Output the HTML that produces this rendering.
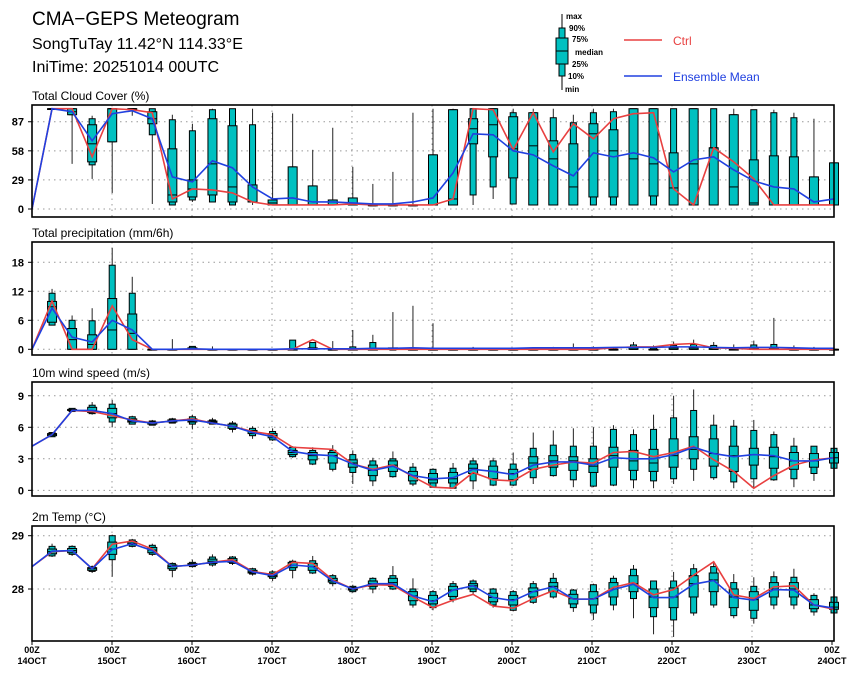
<!DOCTYPE html>
<html><head><meta charset="utf-8"><style>
body{margin:0;background:#fff;}
svg{display:block;font-family:"Liberation Sans",sans-serif;}
</style></head><body>
<svg id="chart" width="860" height="680" viewBox="0 0 860 680">
<text x="32" y="25" font-size="19">CMA−GEPS Meteogram</text>
<text x="32" y="49" font-size="16">SongTuTay 11.42°N 114.33°E</text>
<text x="32" y="72" font-size="16">IniTime: 20251014 00UTC</text>
<g id="legend">
<line x1="562" y1="14" x2="562" y2="90" stroke="#000"/>
<rect x="559" y="28" width="6" height="48" fill="#00c0c0" stroke="#000"/>
<rect x="556" y="38" width="12" height="26" fill="#00c0c0" stroke="#000"/>
<line x1="556" y1="51" x2="568" y2="51" stroke="#000"/>
<g font-size="8" font-weight="bold">
<text x="566" y="19">max</text><text x="569" y="31">90%</text><text x="572" y="42">75%</text>
<text x="575" y="55">median</text><text x="572" y="67">25%</text><text x="568" y="79">10%</text><text x="565" y="92">min</text></g>
<line x1="624" y1="40" x2="662" y2="40" stroke="#e84040" stroke-width="1.5"/>
<text x="673" y="45" font-size="12" fill="#e84040">Ctrl</text>
<line x1="624" y1="76" x2="662" y2="76" stroke="#2040e0" stroke-width="1.5"/>
<text x="673" y="81" font-size="12" fill="#2040e0">Ensemble Mean</text>
</g>
</svg>
<script>
const dayLabels=["14OCT","15OCT","16OCT","17OCT","18OCT","19OCT","20OCT","21OCT","22OCT","23OCT","24OCT"];
const ccTicks=[0,29,58,87];
const ccMin=[null,100,45,30,16,93,5,4,7,7,4,4,4,4,4,4,4,4,4,4,4,4,4,10,5,4,4,4,4,4,4,4,4,4,4,4,4,4,4,4,4];
const ccP10=[null,100,94,44,67,100,74,4,9,7,4,7,4,4,4,4,4,4,4,4,4,4,14,22,5,4,4,4,4,4,4,4,4,4,4,4,4,4,4,4,4];
const ccP25=[null,100,94,47,67,100,85,7,12,14,7,7,4,4,4,4,4,4,4,4,4,4,65,52,31,4,4,4,12,12,4,13,4,4,4,4,4,4,4,4,4];
const ccMed=[null,100,97,65,100,100,90,14,20,45,22,7,6,4,4,4,5,4,4,4,4,10,80,84,60,63,50,22,75,58,50,45,21,45,61,22,6,4,4,4,4];
const ccP75=[null,100,100,84,100,100,97,60,29,90,83,24,9,42,23,9,11,4,4,4,54,99,90,100,92,96,68,65,85,79,100,100,56,100,61,94,49,53,52,32,46];
const ccP90=[null,100,100,90,100,100,100,89,78,99,100,84,9,42,23,9,11,4,4,4,54,99,100,100,96,96,91,86,96,97,100,100,100,100,100,94,99,96,91,32,46];
const ccMax=[null,100,100,93,100,100,100,94,85,100,100,100,96,95,59,81,42,25,37,96,100,100,100,100,100,100,100,94,100,100,100,100,100,100,100,100,99,99,96,90,46];
const ccCtrl=[0,100,100,52,100,99,96,10,20,19,16,7,4,4,4,4,5,4,4,4,4,10,100,99,59,96,57,85,70,90,95,96,20,4,61,47,30,4,4,4,4];
const ccMean=[0,100,97,68,95,98,90,32,27,48,41,22,10,11,7,7,6,5,5,7,11,36,75,74,58,54,43,33,56,52,56,51,37,49,52,39,28,22,20,7,10];

const prTicks=[0,6,12,18];
const prMin=[null,5,0,0,0,0,0,0,0,0,0,0,0,0,0,0,0,0,0,0,0,0,0,0,0,0,0,0,0,0,0,0,0,0,0,0,0,0,0,0,0];
const prP10=[null,5,0,0,0,0,0,0,0,0,0,0,0,0,0,0,0,0,0,0,0,0,0,0,0,0,0,0,0,0,0,0,0,0,0,0,0,0,0,0,0];
const prP25=[null,5.6,0,0,0,0,0,0,0,0,0,0,0,0,0,0,0,0,0,0,0,0,0,0,0,0,0,0,0,0,0,0,0,0,0,0,0,0,0,0,0];
const prMed=[null,8.8,2,1,4,3.3,0,0,0,0,0,0,0,0,0,0,0,0,0,0,0,0,0,0,0,0,0,0,0,0,0,0,0,0,0,0,0,0,0,0,0];
const prP75=[null,9.9,4.3,3,10.5,7.3,0,0,0.3,0,0,0,0,0,0.3,0,0,0,0.3,0,0,0,0,0,0,0,0,0,0,0,0.3,0,0.3,0.3,0.3,0,0.3,0.3,0,0,0];
const prP90=[null,11.6,6,5.9,17.4,11.6,0,0,0.6,0,0,0,0,1.9,1.4,0,0.5,1.4,0,0,0,0,0,0,0,0,0,0,0,0,0.9,0.3,0.8,1.0,0.8,0.3,0.9,1.0,0,0,0];
const prMax=[null,12.5,7,8.5,21,15,0,2.1,0.6,0.6,0,0,0,1.9,1.4,1.7,4,3,7.7,9,5.4,0.3,0.5,0,0.2,0.3,0.5,1.2,0.6,0.3,1.5,0.8,1.6,2.0,1.5,1.0,1.8,6.5,0.8,0.5,0.3];
const prCtrl=[0,10,0,0,9,2,0,0,0,0,0,0,0,0,2,0,0,0,0,0,0,0,0,0,0,0,0,0,0,0.3,0.5,0.5,1.0,1.2,0.3,0.2,0,0,0,0,0];
const prMean=[0,8.5,2.5,1.5,6,4,0,0,0.1,0,0,0,0,0.1,0.1,0.1,0.1,0.2,0.2,0.3,0.2,0.2,0.2,0.2,0.2,0.3,0.3,0.3,0.3,0.4,0.4,0.4,0.5,0.5,0.4,0.3,0.4,0.4,0.3,0.2,0.2];

const wsTicks=[0,3,6,9];
const wsMin=[null,5.1,7.5,7.2,6.0,6.3,6.2,6.4,5.8,6.3,5.5,4.9,4.7,3.1,2.4,1.8,0.6,0.4,1.2,0.4,0.3,0.2,0.1,0.4,0.4,0.6,1.3,0.3,0.3,0.4,0.2,0.2,0.6,0.9,1.0,0.2,0.2,0.9,0.3,0.9,2.0];
const wsP10=[null,5.1,7.5,7.3,6.5,6.3,6.2,6.4,6.3,6.3,5.8,5.2,4.8,3.2,2.5,2.0,1.7,0.9,1.3,0.6,0.3,0.2,0.9,0.5,0.5,1.2,1.4,1.0,0.4,0.5,1.0,0.9,1.1,2.0,1.2,0.8,1.1,1.0,1.1,1.6,2.1];
const wsP25=[null,5.2,7.6,7.4,6.9,6.5,6.3,6.5,6.5,6.4,5.9,5.4,5.0,3.4,2.9,2.6,2.2,1.4,1.8,0.9,0.7,0.7,1.6,1.1,1.0,2.0,2.2,1.9,1.7,2.2,1.9,1.8,2.2,3.0,2.3,1.8,2.4,2.1,2.0,2.2,2.6];
const wsMed=[null,5.3,7.6,7.6,7.3,6.6,6.4,6.6,6.6,6.5,6.1,5.6,5.2,3.6,3.3,3.3,2.6,1.9,2.4,1.4,1.0,1.1,2.1,1.8,1.6,2.6,2.8,2.8,2.3,3.3,2.8,2.6,3.3,3.9,3.5,3.3,3.4,3.2,2.8,2.8,3.1];
const wsP75=[null,5.4,7.7,7.9,7.8,6.8,6.5,6.7,6.8,6.6,6.3,5.7,5.4,3.8,3.6,3.6,2.9,2.4,2.8,1.8,1.6,1.7,2.5,2.3,2.0,3.2,3.3,3.2,3.0,4.1,3.8,3.9,4.9,5.1,4.9,4.2,4.0,4.1,3.6,3.5,3.6];
const wsP90=[null,5.5,7.8,8.1,8.2,7.0,6.6,6.8,7.0,6.7,6.4,5.9,5.6,4.1,3.8,3.8,3.4,2.8,3.0,2.2,2.0,2.1,2.8,2.8,2.5,4.0,4.3,4.2,4.2,5.8,5.3,5.8,6.9,7.6,6.2,6.1,5.7,5.3,4.2,4.2,4.0];
const wsMax=[null,5.5,7.8,8.4,8.6,7.1,6.7,6.9,7.2,6.9,6.6,6.1,5.9,4.2,4.1,4.3,3.8,3.1,3.7,2.6,2.1,2.6,3.1,3.1,3.6,5.5,5.7,5.9,6.0,6.2,5.8,7.2,9.0,9.6,7.2,6.7,6.7,5.6,5.0,4.2,4.0];
const wsCtrl=[4.2,5.3,7.6,7.5,7.1,6.7,6.4,6.6,6.8,6.4,6.1,5.6,5.3,4.1,4.0,3.9,2.5,2.0,2.4,1.3,0.3,0.2,1.7,1.0,0.9,2.0,2.4,2.7,2.6,3.6,3.7,3.2,3.6,4.2,2.9,1.8,0.2,1.4,2.4,2.9,3.1];
const wsMean=[4.2,5.3,7.6,7.6,7.3,6.6,6.4,6.6,6.7,6.4,6.1,5.5,5.1,3.7,3.4,3.3,2.5,1.9,2.3,1.4,1.1,1.2,2.0,1.8,1.5,2.4,2.7,2.7,2.4,3.1,3.0,3.0,3.4,4.1,3.5,3.2,3.4,3.3,2.8,2.8,3.1];

const tTicks=[28,29];
const tMin=[null,28.6,28.62,28.3,28.23,28.78,28.62,28.22,28.4,28.42,28.45,28.25,28.15,28.2,28.28,28.05,27.93,27.92,27.98,27.65,27.6,27.75,27.9,27.65,27.58,27.72,27.82,27.57,27.42,27.6,27.45,27.15,27.1,27.5,27.65,27.45,27.35,27.62,27.62,27.5,27.5];
const tP10=[null,28.62,28.65,28.33,28.55,28.8,28.65,28.35,28.42,28.45,28.48,28.28,28.2,28.35,28.3,28.1,27.95,28.0,28.0,27.7,27.65,27.8,27.95,27.7,27.6,27.75,27.85,27.65,27.55,27.7,27.82,27.48,27.42,27.55,27.7,27.5,27.45,27.7,27.7,27.57,27.55];
const tP25=[null,28.66,28.68,28.35,28.65,28.83,28.68,28.38,28.44,28.48,28.5,28.3,28.23,28.4,28.35,28.13,27.98,28.05,28.05,27.78,27.72,27.86,28.0,27.76,27.7,27.85,27.95,27.72,27.7,27.85,27.95,27.65,27.65,27.85,27.95,27.65,27.6,27.85,27.85,27.63,27.62];
const tMed=[null,28.7,28.72,28.38,28.75,28.86,28.73,28.42,28.46,28.52,28.53,28.32,28.25,28.45,28.42,28.16,28.0,28.1,28.12,27.87,27.78,27.98,28.06,27.84,27.8,27.95,28.05,27.82,27.82,28.0,28.1,27.85,27.85,28.1,28.17,27.85,27.8,28.0,28.0,27.7,27.66];
const tP75=[null,28.75,28.76,28.4,28.88,28.89,28.78,28.45,28.48,28.56,28.57,28.35,28.29,28.5,28.48,28.2,28.03,28.15,28.2,27.95,27.88,28.05,28.1,27.92,27.88,28.02,28.12,27.9,27.95,28.12,28.25,28.0,28.02,28.25,28.3,28.0,27.95,28.12,28.12,27.8,27.75];
const tP90=[null,28.8,28.8,28.42,29.0,28.92,28.82,28.48,28.5,28.6,28.6,28.38,28.32,28.52,28.53,28.25,28.05,28.2,28.25,28.0,27.95,28.1,28.15,28.0,27.95,28.1,28.2,27.98,28.08,28.2,28.37,28.15,28.15,28.38,28.42,28.12,28.05,28.23,28.22,27.88,27.85];
const tMax=[null,28.85,28.82,28.44,29.02,28.94,28.85,28.5,28.55,28.65,28.62,28.4,28.35,28.55,28.62,28.28,28.08,28.22,28.43,28.2,27.98,28.15,28.18,28.02,27.98,28.15,28.3,28.0,28.1,28.25,28.45,28.15,28.32,28.47,28.5,28.28,28.22,28.33,28.38,27.92,27.88];
const tCtrl=[28.42,28.7,28.72,28.38,28.84,28.9,28.75,28.42,28.45,28.5,28.55,28.33,28.27,28.5,28.48,28.17,28.0,28.08,28.07,27.85,27.65,27.79,27.9,27.68,27.64,27.82,27.97,27.81,27.81,28.03,28.12,27.89,27.99,28.26,28.51,27.89,27.82,28.04,28.06,27.7,27.62];
const tMean=[28.42,28.71,28.72,28.38,28.74,28.85,28.72,28.42,28.45,28.5,28.52,28.32,28.25,28.45,28.42,28.15,28.0,28.1,28.1,27.87,27.76,27.98,28.06,27.84,27.78,27.95,28.04,27.81,27.81,27.99,28.09,27.84,27.84,28.09,28.16,27.84,27.79,27.99,27.98,27.7,27.64];

const NS="http://www.w3.org/2000/svg";
const svg=document.getElementById('chart');
const X0=32,X1=834,NSTEP=40;
function xs(i){return X0+(X1-X0)*i/NSTEP;}
function mk(tag,attrs,parent){const e=document.createElementNS(NS,tag);for(const k in attrs)e.setAttribute(k,attrs[k]);(parent||svg).appendChild(e);return e;}

function panel(name,title,top,bottom,ymin,ymax,ticks,fmt,d,isLast){
  const g=mk('g',{});
  
  
  const ys=v=>bottom-(v-ymin)/(ymax-ymin)*(bottom-top);
  const t=mk('text',{x:X0,y:top-5,'font-size':12},g);
  t.textContent=title;
  
  
  // grid
  for(let k=1;k<10;k++){const l=mk('line',{x1:X0+80*k,x2:X0+80*k,y1:top,y2:bottom,stroke:'#999','stroke-dasharray':'1.5,4'},g);
    }
  ticks.forEach(v=>{const y=ys(v);
    const l=mk('line',{x1:X0,x2:X1,y1:y,y2:y,stroke:'#999','stroke-dasharray':'1.5,4'},g);
    
    const tk=mk('line',{x1:X0-4,x2:X0,y1:y,y2:y,stroke:'#000'},g);
    
    const tl=mk('text',{x:X0-8,y:y+4,'font-size':11,'font-weight':'bold','text-anchor':'end'},g);
    tl.textContent=fmt(v);
    });
  // boxes
  for(let i=0;i<=NSTEP;i++){
    if(d.min[i]===null)continue;
    const x=xs(i);
    const bg=mk('g',{},g);
    
    
    mk('line',{x1:x,x2:x,y1:ys(d.min[i]),y2:ys(d.max[i]),stroke:'#222','stroke-width':1},bg);
    const a=ys(d.p90[i]),b=ys(d.p10[i]);
    mk('rect',{x:x-3,y:a,width:6,height:Math.max(b-a,0.8),fill:'#00c0c0',stroke:'#000','stroke-width':1},bg);
    const c=ys(d.p75[i]),e=ys(d.p25[i]);
    mk('rect',{x:x-4.5,y:c,width:9,height:Math.max(e-c,0.8),fill:'#00c0c0',stroke:'#000','stroke-width':1},bg);
    mk('line',{x1:x-4.5,x2:x+4.5,y1:ys(d.med[i]),y2:ys(d.med[i]),stroke:'#000','stroke-width':1},bg);
  }
  const pc=mk('polyline',{points:d.ctrl.map((v,i)=>xs(i)+','+ys(v)).join(' '),fill:'none',stroke:'#e84040','stroke-width':1.6},g);
  
  const pm=mk('polyline',{points:d.mean.map((v,i)=>xs(i)+','+ys(v)).join(' '),fill:'none',stroke:'#2040e0','stroke-width':1.6},g);
  
  const fr=mk('rect',{x:X0,y:top,width:X1-X0,height:bottom-top,fill:'none',stroke:'#000','stroke-width':1.6},g);
  
  if(isLast){
    dayLabels.forEach((lab,k)=>{const x=X0+80*k;
      const tk=mk('line',{x1:x,x2:x,y1:bottom,y2:bottom+4,stroke:'#000'},g);
      
      const t1=mk('text',{x:x,y:bottom+12,'font-size':9,'font-weight':'bold','text-anchor':'middle'},g);
      t1.textContent='00Z';
      
      const t2=mk('text',{x:x,y:bottom+23,'font-size':9,'font-weight':'bold','text-anchor':'middle'},g);
      t2.textContent=lab;
      });
  }
}
panel('cloud-cover','Total Cloud Cover (%)',105,217,-7.98,103.7,ccTicks,v=>String(v),
  {min:ccMin,p10:ccP10,p25:ccP25,med:ccMed,p75:ccP75,p90:ccP90,max:ccMax,ctrl:ccCtrl,mean:ccMean});
panel('precipitation','Total precipitation (mm/6h)',242,355,-1.18,22.2,prTicks,v=>String(v),
  {min:prMin,p10:prP10,p25:prP25,med:prMed,p75:prP75,p90:prP90,max:prMax,ctrl:prCtrl,mean:prMean});
panel('wind-speed','10m wind speed (m/s)',382,496,-0.54,10.31,wsTicks,v=>String(v),
  {min:wsMin,p10:wsP10,p25:wsP25,med:wsMed,p75:wsP75,p90:wsP90,max:wsMax,ctrl:wsCtrl,mean:wsMean});
panel('temperature','2m Temp (°C)',526,641,27.024,29.182,tTicks,v=>String(v),
  {min:tMin,p10:tP10,p25:tP25,med:tMed,p75:tP75,p90:tP90,max:tMax,ctrl:tCtrl,mean:tMean},true);
</script>
</body></html>
